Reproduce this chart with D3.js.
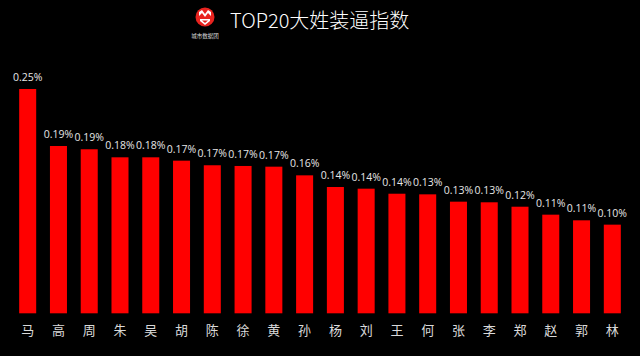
<!DOCTYPE html>
<html>
<head>
<meta charset="utf-8">
<script src="https://cdn.jsdelivr.net/npm/d3@7"></script>
<style>
  html, body { margin: 0; padding: 0; background: #000; }
  svg { display: block; }
</style>
</head>
<body>
<svg id="chart" width="640" height="356"></svg>
<script>
const title = "TOP20大姓装逼指数";
const categories = ["马","高","周","朱","吴","胡","陈","徐","黄","孙","杨","刘","王","何","张","李","郑","赵","郭","林"];
const values = [0.2538,0.1893,0.1856,0.1765,0.1765,0.1727,0.1675,0.1667,0.1659,0.1561,0.1429,0.1410,0.1353,0.1346,0.1263,0.1256,0.1206,0.1116,0.1052,0.1003];

const svg = d3.select("#chart");
svg.append("rect").attr("width", 640).attr("height", 356).attr("fill", "#000");

const data = categories.map((c, i) => ({ c, v: values[i] }));

const x = d3.scaleBand()
  .domain(categories)
  .range([12.3, 627.7])
  .paddingInner(0.447)
  .paddingOuter(0.2235);

const y = d3.scaleLinear()
  .domain([0, 0.25])
  .range([313.3, 92.35]);

// bars
svg.append("g").selectAll("rect")
  .data(data)
  .join("rect")
  .attr("x", d => x(d.c))
  .attr("y", d => y(d.v))
  .attr("width", x.bandwidth())
  .attr("height", d => y(0) - y(d.v))
  .attr("fill", "#ff0000");

// value labels
const fmt = d3.format(".2f");
svg.append("g").selectAll("text")
  .data(data)
  .join("text")
  .attr("x", d => x(d.c) + x.bandwidth() / 2)
  .attr("y", d => y(d.v) - 8)
  .attr("text-anchor", "middle")
  .attr("fill", "#e6e6e6")
  .style("font-family", "'Open Sans', 'Liberation Sans', sans-serif")
  .style("font-size", "10.5px")
  .text(d => fmt(d.v) + "%");

// x axis labels
const xAxis = d3.axisBottom(x).tickSize(0).tickPadding(0);
const gx = svg.append("g")
  .attr("transform", `translate(0, 318)`)
  .call(xAxis);
gx.select(".domain").remove();
gx.selectAll("text")
  .attr("fill", "#d9d9d9")
  .attr("dy", "0")
  .attr("y", 17)
  .style("font-family", "'Noto Sans CJK SC', sans-serif")
  .style("font-size", "13px");

// logo
const logo = svg.append("g");
logo.append("circle").attr("cx", 205).attr("cy", 17).attr("r", 9.5).attr("fill", "#e8231f");
logo.append("path")
  .attr("d", "M199,12 L202,10 L205,14 L208,10 L211,12 L211,16 L208,13 L205,17 L202,13 L199,16 Z")
  .attr("fill", "#fff");
logo.append("path")
  .attr("d", "M200,19 L210,19 L210,21 L205,25 L200,21 Z M202,20.5 L205,23 L208,20.5 Z")
  .attr("fill", "#fff")
  .attr("fill-rule", "evenodd");
logo.append("text")
  .attr("x", 205).attr("y", 38)
  .attr("text-anchor", "middle")
  .attr("fill", "#ddd")
  .style("font-family", "'Noto Sans CJK SC', sans-serif")
  .style("font-size", "5.5px")
  .text("城市数据团");

// title
svg.append("text")
  .attr("x", 230)
  .attr("y", 28)
  .attr("fill", "#fff")
  .style("font-family", "'Noto Sans CJK SC', sans-serif")
  .style("font-size", "20px")
  .style("font-weight", "300")
  .text(title);
</script>
</body>
</html>
